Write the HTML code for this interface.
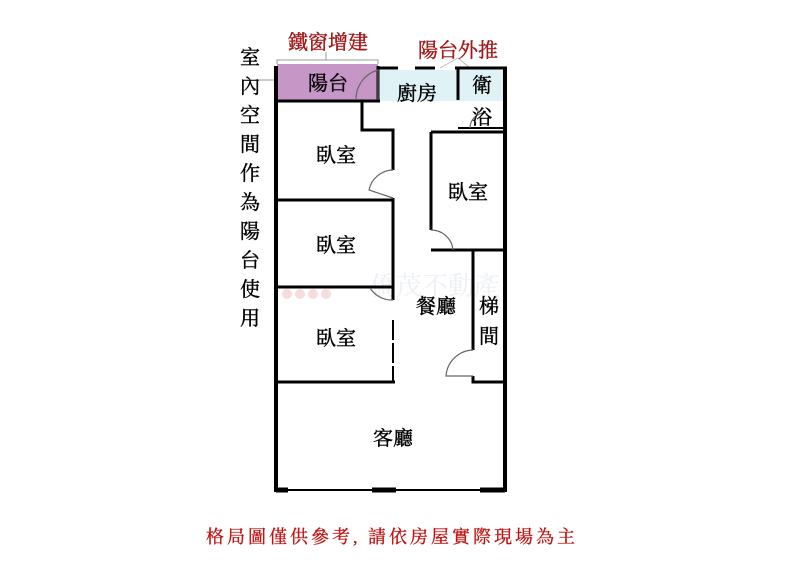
<!DOCTYPE html>
<html><head><meta charset="utf-8"><style>
body{margin:0;background:#fff;}
svg{display:block}
text{font-family:"Liberation Serif","Noto Serif CJK SC","Noto Sans CJK TC",serif;}
</style></head><body>
<svg width="800" height="565" viewBox="0 0 800 565" xmlns="http://www.w3.org/2000/svg">
<rect width="800" height="565" fill="#fff"/>
<rect x="277" y="64" width="101" height="37" fill="#c596c6"/>
<rect x="378" y="70" width="80" height="31" fill="#dff3f6"/>
<rect x="458" y="70" width="47" height="31" fill="#dff3f6"/>
<polyline points="277,64 277,60 378,60 378,64" fill="none" stroke="#999" stroke-width="1"/>
<line x1="326" y1="52" x2="326" y2="60" stroke="#999"/>
<line x1="255" y1="80" x2="276" y2="80" stroke="#999"/>
<line x1="440" y1="68" x2="458" y2="58" stroke="#bbb"/>
<line x1="458" y1="58" x2="470" y2="68" stroke="#bbb"/>
<text x="370" y="295" font-size="26" fill="#eceff3" font-family="Liberation Sans,Noto Sans CJK TC,sans-serif">僑茂不動產</text>
<circle cx="287" cy="294" r="5" fill="#f6dcdc"/><circle cx="300" cy="294" r="5" fill="#f6dcdc"/><circle cx="313" cy="294" r="5" fill="#f6dcdc"/><circle cx="326" cy="294" r="5" fill="#f6dcdc"/>
<g stroke="#000" stroke-width="4" fill="none">
<line x1="276" y1="66" x2="276" y2="492"/>
<line x1="505" y1="67" x2="505" y2="492"/>
<line x1="274" y1="490" x2="507" y2="490" stroke-width="2"/>
<line x1="378" y1="68" x2="398" y2="68" stroke-width="3"/>
<line x1="415" y1="68" x2="435" y2="68" stroke-width="3"/>
<line x1="455" y1="68" x2="507" y2="68" stroke-width="3"/>
<line x1="378" y1="66" x2="378" y2="100" stroke-width="3"/>
<line x1="276" y1="101" x2="380" y2="101" stroke-width="3"/>
<polyline points="362,101 362,130 393,130 393,170" stroke-width="3"/>
<line x1="393" y1="198" x2="393" y2="287" stroke-width="3"/>
<line x1="393" y1="320" x2="393" y2="383" stroke-width="2" stroke-dasharray="20,3"/>
<line x1="393" y1="287" x2="393" y2="300" stroke-width="3"/>
<line x1="276" y1="200" x2="393" y2="200" stroke-width="3"/>
<line x1="276" y1="287" x2="393" y2="287" stroke-width="3"/>
<line x1="276" y1="382" x2="395" y2="382" stroke-width="3"/>
<line x1="458" y1="68" x2="458" y2="100" stroke-width="3"/>
<line x1="458" y1="128" x2="505" y2="128" stroke-width="2"/>
<line x1="431" y1="132" x2="505" y2="132" stroke-width="3"/>
<line x1="431" y1="132" x2="431" y2="230" stroke-width="3"/>
<line x1="431" y1="250" x2="505" y2="250" stroke-width="3"/>
<line x1="473" y1="250" x2="473" y2="350" stroke-width="3"/>
<polyline points="473,376 473,382 505,382" stroke-width="3"/>
<line x1="276" y1="490" x2="288" y2="490" stroke-width="5"/>
<line x1="372" y1="490" x2="396" y2="490" stroke-width="5"/>
<line x1="480" y1="490" x2="505" y2="490" stroke-width="5"/>
</g>
<g stroke="#666" stroke-width="1.2" fill="none">
<path d="M378,100 L378,70 A30,30 0 0 0 356,100"/>
<path d="M393,170 A25,25 0 0 0 369,190 L393,198"/>
<path d="M431,230 A22,22 0 0 1 453,250"/>
<path d="M393,300 A26,26 0 0 1 370,288"/>
<path d="M473,350 A28,28 0 0 0 446,376 L473,376"/>
<path d="M470,128 A15,15 0 0 1 485,113"/>
</g>
<g font-size="20" fill="#000" text-anchor="middle" stroke="#000" stroke-width="0.4">
<text x="328" y="90">陽台</text>
<text x="417" y="100">廚房</text>
<text x="482" y="92">衛</text>
<text x="482" y="124">浴</text>
<text x="336" y="162">臥室</text>
<text x="468" y="199">臥室</text>
<text x="336" y="252">臥室</text>
<text x="436" y="313">餐廳</text>
<text x="489" y="313">梯</text>
<text x="489" y="343">間</text>
<text x="336" y="345">臥室</text>
<text x="393" y="445">客廳</text>
</g>
<g font-size="20" fill="#000" text-anchor="middle" stroke="#000" stroke-width="0.4">
<text x="250" y="64">室</text><text x="250" y="93">內</text><text x="250" y="122">空</text><text x="250" y="151">間</text><text x="250" y="180">作</text><text x="250" y="209">為</text><text x="250" y="238">陽</text><text x="250" y="267">台</text><text x="250" y="296">使</text><text x="250" y="325">用</text>
</g>
<text x="328" y="49" font-size="20" fill="#a01818" stroke="#a01818" stroke-width="0.4" text-anchor="middle">鐵窗增建</text>
<text x="458" y="57" font-size="20" fill="#a01818" stroke="#a01818" stroke-width="0.4" text-anchor="middle">陽台外推</text>
<text x="392" y="543" font-size="18" letter-spacing="3" fill="#c01010" stroke="#c01010" stroke-width="0.3" text-anchor="middle">格局圖僅供參考, 請依房屋實際現場為主</text>
</svg>
</body></html>
